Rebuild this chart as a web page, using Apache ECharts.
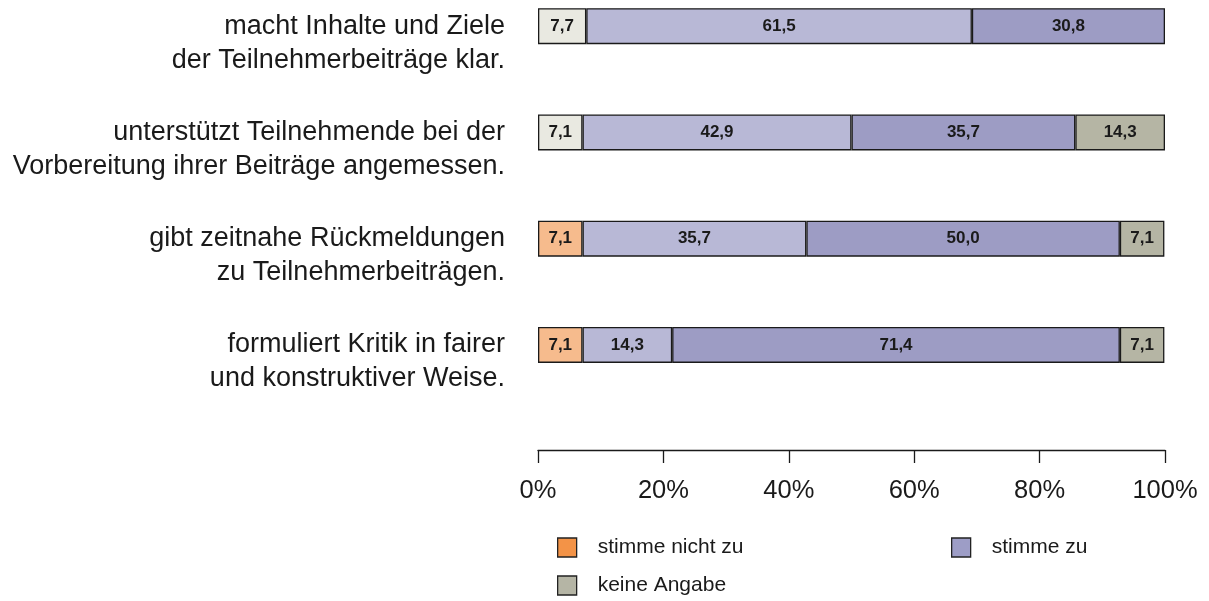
<!DOCTYPE html>
<html>
<head>
<meta charset="utf-8">
<script src="https://cdn.jsdelivr.net/npm/echarts@6/dist/echarts.min.js"></script>
<style>
  html, body { margin: 0; padding: 0; background: #fff; }
  #chart { width: 1209px; height: 601px; }
</style>
</head>
<body>
<div id="chart"></div>
<script>
// Aussagen (von oben nach unten)
const categories = [
  'macht Inhalte und Ziele\nder Teilnehmerbeiträge klar.',
  'unterstützt Teilnehmende bei der\nVorbereitung ihrer Beiträge angemessen.',
  'gibt zeitnahe Rückmeldungen\nzu Teilnehmerbeiträgen.',
  'formuliert Kritik in fairer\nund konstruktiver Weise.'
]

// Anteile in Prozent je Antwortkategorie
const weissNicht = [7.7, 7.1, null, null]
const stimmeNichtZu = [null, null, 7.1, 7.1]
const stimmeEherZu = [61.5, 42.9, 35.7, 14.3]
const stimmeZu = [30.8, 35.7, 50.0, 71.4]
const keineAngabe = [null, 14.3, 7.1, 7.1]

const xTicks = [0, 20, 40, 60, 80, 100]

const FONT = 'Liberation Sans, Arial, Helvetica, sans-serif'
const fmt = (v) => v.toFixed(1).replace('.', ',')

const makeSeries = (name, data, color) => ({
  name: name,
  type: 'bar',
  stack: 'all',
  data: data,
  barWidth: 36,
  itemStyle: {
    color: color,
    borderColor: '#1a1a1a',
    borderWidth: 1.3
  },
  label: {
    show: true,
    position: 'inside',
    formatter: (p) => fmt(p.value),
    color: '#1a1a1a',
    fontFamily: FONT,
    fontWeight: 'bold',
    fontSize: 17
  },
  emphasis: { disabled: true }
})

const legendBase = {
  orient: 'horizontal',
  itemWidth: 19,
  itemHeight: 19,
  icon: 'rect',
  selectedMode: false,
  padding: 0,
  textStyle: {
    color: '#1a1a1a',
    fontFamily: FONT,
    fontSize: 21,
    padding: [0, 0, 0, 16]
  }
}

const legendIcon = (color) => ({ color: color, borderColor: '#222', borderWidth: 1.3 })

const chart = echarts.init(document.getElementById('chart'))

chart.setOption({
  animation: false,
  grid: {
    left: 538,
    right: 44,
    top: -27,
    height: 425,
    outerBoundsMode: 'none'
  },
  legend: [
    Object.assign({}, legendBase, {
      left: 557, top: 537,
      data: [{ name: 'stimme nicht zu', itemStyle: legendIcon('#f39347') }]
    }),
    Object.assign({}, legendBase, {
      left: 951, top: 537,
      data: [{ name: 'stimme zu', itemStyle: legendIcon('#9d9dc6') }]
    }),
    Object.assign({}, legendBase, {
      left: 557, top: 575,
      data: [{ name: 'keine Angabe', itemStyle: legendIcon('#b5b5a5') }]
    })
  ],
  xAxis: {
    type: 'value',
    min: xTicks[0],
    max: xTicks[xTicks.length - 1],
    interval: 20,
    position: 'bottom',
    offset: 52,
    axisLine: { show: true, lineStyle: { color: '#1a1a1a', width: 1.3 } },
    axisTick: { show: true, inside: false, length: 13, lineStyle: { color: '#1a1a1a', width: 1.3 } },
    splitLine: { show: false },
    axisLabel: {
      formatter: '{value}%',
      color: '#1a1a1a',
      fontFamily: FONT,
      fontSize: 25.5,
      margin: 28
    }
  },
  yAxis: {
    type: 'category',
    inverse: true,
    data: categories,
    axisLine: { show: false },
    axisTick: { show: false },
    axisLabel: {
      // leere erste Zeile, damit die erste Textzeile auf Höhe des Balkens steht
      formatter: (v) => '\n' + v,
      color: '#1a1a1a',
      fontFamily: FONT,
      fontSize: 27,
      lineHeight: 34,
      align: 'right',
      margin: 33
    }
  },
  series: [
    makeSeries('weiß nicht', weissNicht, '#e9e9e1'),
    makeSeries('stimme nicht zu', stimmeNichtZu, '#f6bb8d'),
    makeSeries('stimme eher zu', stimmeEherZu, '#b8b8d6'),
    makeSeries('stimme zu', stimmeZu, '#9d9cc4'),
    makeSeries('keine Angabe', keineAngabe, '#b5b5a4')
  ]
})
</script>
</body>
</html>
